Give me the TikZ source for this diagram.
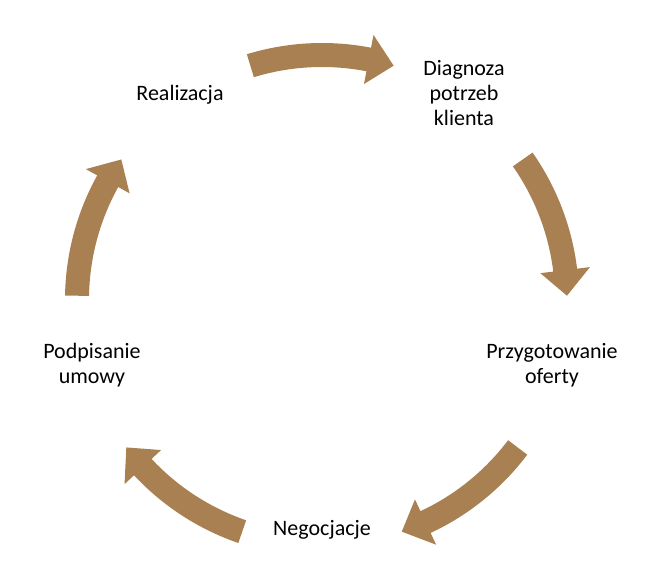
\documentclass[tikz,border=0pt]{standalone}
\usepackage{fontspec}
\setmainfont{Carlito}
\definecolor{brn}{HTML}{A98051}
\begin{document}
\begin{tikzpicture}[x=1pt,y=1pt,
  lbl/.style={align=center,font=\fontsize{22}{25}\selectfont,text=black},
  cyc/.style={fill=brn}]
\useasboundingbox (0,0) rectangle (654,587);
\coordinate (C) at (322,287);
\node[lbl] (d) at (464,494) {Diagnoza\\potrzeb\\klienta};
\node[lbl] (p) at (552,222) {Przygotowanie\\oferty};
\node[lbl] (n) at (322,57) {Negocjacje};
\node[lbl] (u) at (92,222) {Podpisanie\\umowy};
\node[lbl] (r) at (180,492) {Realizacja};
\foreach \c in {90,18,-54,-126,-198}{
  \fill[cyc,shift={(C)}] (\c+17:233) arc[start angle=\c+17,end angle=\c-11,radius=233]
    -- (\c-11:220) -- (\c-17:245) -- (\c-11:270) -- (\c-11:257)
    arc[start angle=\c-11,end angle=\c+17,radius=257] -- cycle;
}
\end{tikzpicture}
\end{document}
